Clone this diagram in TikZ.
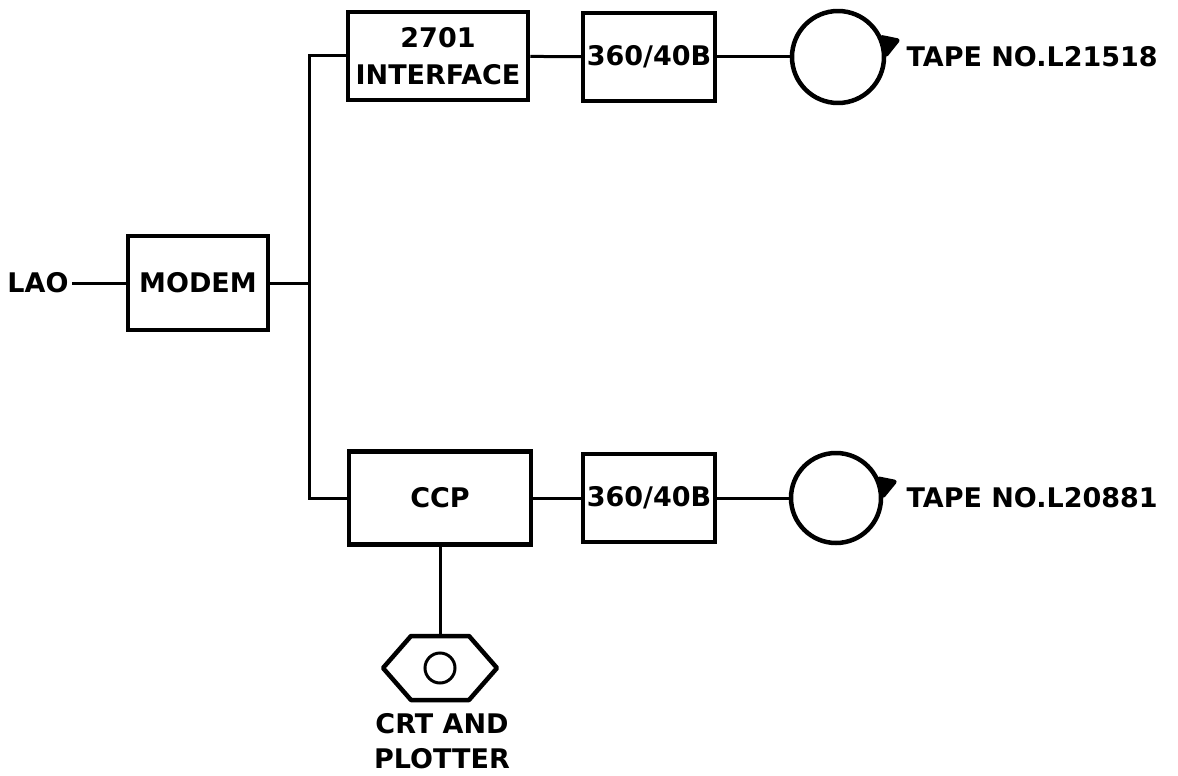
\documentclass[tikz,border=0pt]{standalone}
\usepackage{fontspec}
\setmainfont{DejaVu Sans}
\usetikzlibrary{positioning}

\begin{document}
\begin{tikzpicture}[x=1pt,y=1pt,
    font=\bfseries\fontsize{27}{37}\selectfont,
    box/.style={draw,line width=4.5pt,inner sep=0pt,align=center,minimum height=88pt},
    wire/.style={line width=3pt},
    reel/.style={draw,line width=4.5pt,line join=round}]
  \useasboundingbox (0,0) rectangle (1178,-776);
  % boxes
  \node[box,minimum width=140pt,minimum height=94pt] (modem) at (198,-283) {MODEM};
  \node (lao) at (38,-283) {LAO};
  \node[box,minimum width=180pt] (iface) at (438,-56) {2701\\INTERFACE};
  \node[box,minimum width=132pt] (cpua) at (649,-57) {360/40B};
  \node[box,minimum width=182pt,minimum height=93pt] (ccp) at (440,-498) {CCP};
  \node[box,minimum width=132pt] (cpub) at (649,-498) {360/40B};
  % tapes
  \node[reel,circle,minimum size=92pt,inner sep=0pt] (tapea) at (838,-57) {};
  \node[reel,circle,minimum size=90pt,inner sep=0pt] (tapeb) at (836,-498) {};
  \draw[reel,fill] (tapea.24) -- ([shift={(14,0)}]tapea.20) -- (tapea.3) -- cycle;
  \draw[reel,fill] (tapeb.24) -- ([shift={(14,0)}]tapeb.20) -- (tapeb.3) -- cycle;
  \node[anchor=west] (laba) at (903,-57) {TAPE NO.L21518};
  \node[anchor=west] (labb) at (903,-498) {TAPE NO.L20881};
  % crt
  \coordinate (crt) at (440,-668);
  \coordinate (crttop) at (440,-636);
  \draw[reel] (crt) +(-57,0) -- +(-29,32) -- +(29,32) -- +(57,0) -- +(29,-32) -- +(-29,-32) -- cycle;
  \draw[wire] (crt) circle (15);
  \node[align=center,font=\bfseries\fontsize{27}{35}\selectfont] (crtlab) at (442,-741) {CRT AND\\PLOTTER};
  % connectors
  \coordinate (bus) at (309,-283);
  \draw[wire] (lao) -- (modem);
  \draw[wire] (modem) -- (bus);
  \draw[wire] (iface.west) -| (bus) |- (ccp.west);
  \draw[wire] (iface) -- (cpua);
  \draw[wire] (cpua) -- (tapea);
  \draw[wire] (ccp) -- (cpub);
  \draw[wire] (cpub) -- (tapeb);
  \draw[wire] (ccp) -- (crttop);
\end{tikzpicture}
\end{document}
